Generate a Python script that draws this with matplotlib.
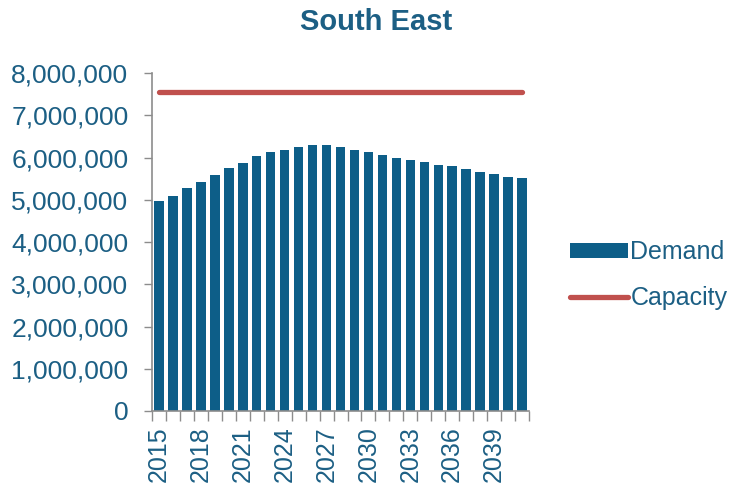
import matplotlib.pyplot as plt
import matplotlib.ticker as mticker
import numpy as np

plt.rcParams['font.family'] = ['Liberation Sans', 'DejaVu Sans']

years = list(range(2015, 2042))
demand = [4970000, 5090000, 5270000, 5420000, 5580000, 5750000, 5880000,
          6040000, 6130000, 6190000, 6260000, 6290000, 6290000, 6260000,
          6190000, 6130000, 6070000, 6000000, 5940000, 5890000, 5820000,
          5790000, 5730000, 5660000, 5610000, 5540000, 5510000]
capacity = [7550000] * len(years)

bar_color = '#0D5E88'
cap_color = '#C0504D'
text_color = '#1C5F84'
axis_color = '#8C8C8C'

fig = plt.figure(figsize=(7.35, 4.91), dpi=100)
ax = fig.add_axes([0.2068, 0.163, 0.513, 0.688])

x = np.arange(len(years))
bars = ax.bar(x, demand, width=0.68, color=bar_color, label='Demand', zorder=2)
line, = ax.plot(x, capacity, color=cap_color, lw=3.8, solid_capstyle='round',
                label='Capacity', zorder=3)

ax.set_xlim(-0.5, len(years) - 0.5)
ax.set_ylim(0, 8000000)
ax.yaxis.set_major_locator(mticker.MultipleLocator(1000000))
ax.yaxis.set_major_formatter(mticker.FuncFormatter(lambda v, p: '{:,.0f}'.format(v)))

ax.set_xticks(x[::3])
ax.set_xticklabels([str(y) for y in years[::3]], rotation=90)
ax.set_xticks(np.arange(-0.5, len(years), 1), minor=True)
ax.tick_params(axis='x', which='major', length=0, pad=11, labelsize=18, labelcolor=text_color)
ax.tick_params(axis='x', which='minor', length=7, color=axis_color, width=1)
ax.tick_params(axis='y', length=6, color=axis_color, width=1, pad=11,
               labelsize=19, labelcolor=text_color)

for s in ['top', 'right']:
    ax.spines[s].set_visible(False)
for s in ['left', 'bottom']:
    ax.spines[s].set_color(axis_color)
    ax.spines[s].set_linewidth(1.2)

fig.text(376 / 735, 1 - 22 / 491, 'South East', ha='center', va='center',
         fontsize=21, fontweight='bold', color=text_color)

fig.legend([bars, line], ['Demand', 'Capacity'], loc='center left',
           bbox_to_anchor=(570 / 735, 1 - 275 / 491), borderaxespad=0, borderpad=0,
           frameon=False, fontsize=18, handlelength=2.3, handletextpad=0.12,
           labelspacing=0.85, labelcolor=text_color, handleheight=0.5)

fig.savefig('out.png', dpi=100)
